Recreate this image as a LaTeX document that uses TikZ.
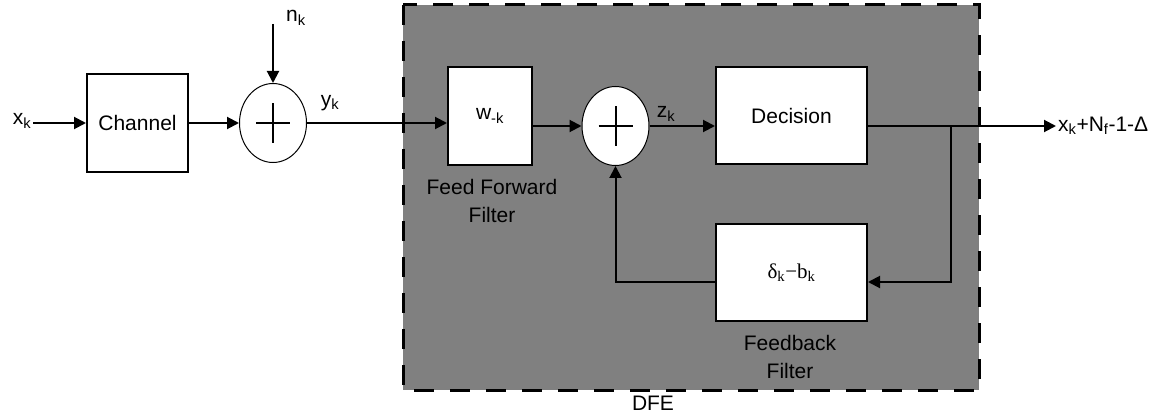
\documentclass[tikz,border=0pt]{standalone}
\usepackage{fontspec}
\setmainfont{Liberation Sans}
\newfontfamily\timesfont{Liberation Serif}
\usetikzlibrary{shapes.geometric,arrows.meta}

\begin{document}
\begin{tikzpicture}[x=1pt,y=-1pt,
  every node/.style={font=\fontsize{21}{28}\selectfont},
  block/.style={draw,fill=white,line width=2pt,inner sep=0pt},
  adder/.style={draw,fill=white,ellipse,line width=1pt,minimum width=67pt,minimum height=79pt,inner sep=0pt},
  lbl/.style={inner sep=2pt},
  arr/.style={line width=2pt,-{Triangle[length=12pt,width=12pt]}},
  wire/.style={line width=2pt}]
\useasboundingbox (0,0) rectangle (1152,417);

% the DFE region
\draw[fill=gray,line width=3pt,dash pattern=on 20pt off 16pt] (403,5) rectangle (979,390);
\node[lbl] (dfe) at (653,403) {DFE};

% blocks
\node[block,minimum width=101pt,minimum height=98pt] (chan) at (137.5,123) {Channel};
\node[adder] (sum1) at (273,123) {};
\node[block,minimum width=84pt,minimum height=98pt] (wk) at (490,116) {w\textsubscript{-k}};
\node[adder] (sum2) at (615.5,126) {};
\node[block,minimum width=151pt,minimum height=97pt] (dec) at (791.5,115.5) {Decision};
\node[block,minimum width=151pt,minimum height=97pt] (fb) at (791.5,272.5) {\timesfont δ\textsubscript{k}−b\textsubscript{k}};

\foreach \s in {sum1,sum2}
	{
	\draw[wire] ([xshift=-17pt]\s.center) -- ([xshift=17pt]\s.center);
	\draw[wire] ([yshift=-20pt]\s.center) -- ([yshift=20pt]\s.center);
	}

% labels
\node[lbl] (xk) at (22,121) {x\textsubscript{k}};
\node[lbl] (nk) at (296,18) {n\textsubscript{k}};
\node[lbl] (yk) at (330,103) {y\textsubscript{k}};
\node[lbl] (zk) at (666,114) {z\textsubscript{k}};
\node[lbl,anchor=west] (out) at (1056,126) {x\textsubscript{k}+N\textsubscript{f}-1-Δ};
\node[lbl,align=center] (fff) at (492,201) {Feed Forward\\Filter};
\node[lbl,align=center] (fbf) at (790,357) {Feedback\\Filter};

\coordinate (nin) at (273,24);
\coordinate (br) at (951,126);

% connections
\draw[arr] (xk.east |- chan) -- (chan.west);
\draw[arr] (chan.east) -- (sum1.west);
\draw[arr] (nin) -- (sum1.north);
\draw[arr] (sum1.east) -- (sum1.east -| wk.west);
\draw[arr] (sum2.west -| wk.east) -- (sum2.west);
\draw[arr] (sum2.east) -- (sum2.east -| dec.west);
\draw[arr] (sum2.east -| dec.east) -- (out.west);
\draw[arr] (br) |- ([yshift=-9.5pt]fb.east);
\draw[arr] ([yshift=-9.5pt]fb.west) -| (sum2.south);
\end{tikzpicture}
\end{document}
